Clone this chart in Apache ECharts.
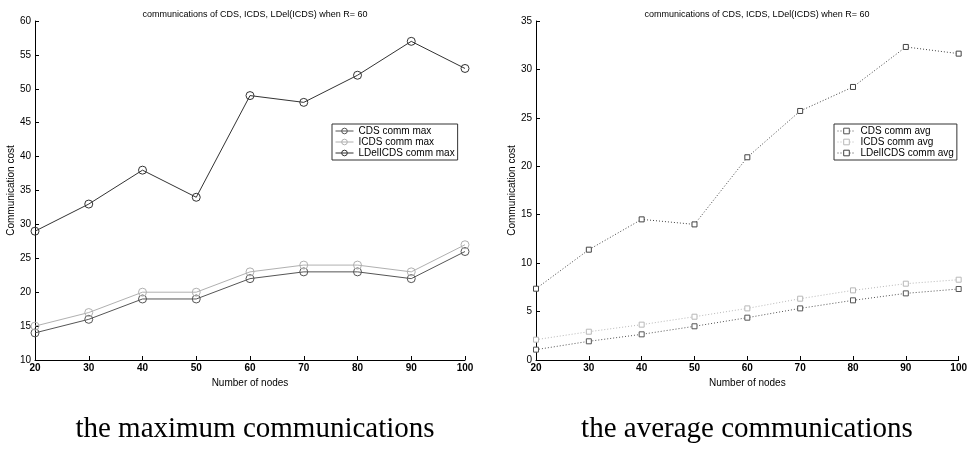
<!DOCTYPE html>
<html lang="en">
<head>
    <meta charset="utf-8"/>
    <script src="https://cdn.jsdelivr.net/npm/echarts@6/dist/echarts.min.js"></script>
</head>
<body style="margin: 0; background: #fff">
<div id="container" style="width: 970px;height:453px;"></div>
<script type="text/javascript">
    // nodes on the x axis
    var nodes = [20, 30, 40, 50, 60, 70, 80, 90, 100];

    // left chart: maximum communications
    var cdsMax = [14, 16, 19, 19, 22, 23, 23, 22, 26];
    var icdsMax = [15, 17, 20, 20, 23, 24, 24, 23, 27];
    var ldelMax = [29, 33, 38, 34, 49, 48, 52, 57, 53];

    // right chart: average communications
    var cdsAvg = [1.07, 1.93, 2.65, 3.48, 4.37, 5.33, 6.16, 6.88, 7.33];
    var icdsAvg = [2.1, 2.92, 3.65, 4.47, 5.33, 6.33, 7.19, 7.88, 8.29];
    var ldelAvg = [7.36, 11.39, 14.52, 14.0, 20.93, 25.71, 28.19, 32.32, 31.63];

    var titleText = 'communications of CDS, ICDS, LDel(ICDS) when R= 60';
    var captions = ['the maximum communications', 'the average communications'];

    function pairs(vals) {
        return vals.map(function (v, i) { return [nodes[i], v]; });
    }

    var font = 'Liberation Sans';
    var axisText = { color: '#000', fontSize: 10, fontFamily: font };

    function xAxis(gi) {
        return {
            gridIndex: gi, type: 'value', min: 20, max: 100, interval: 10,
            name: 'Number of nodes', nameLocation: 'middle', nameGap: 16,
            nameTextStyle: axisText,
            axisLine: { lineStyle: { color: '#000', width: 1 } },
            axisTick: { inside: true, length: 4, lineStyle: { color: '#000' } },
            axisLabel: { color: '#000', fontSize: 10, fontFamily: font, fontWeight: 'bold', margin: 3 },
            splitLine: { show: false }
        };
    }

    function yAxis(gi, min, max) {
        return {
            gridIndex: gi, type: 'value', min: min, max: max, interval: 5,
            name: 'Communication cost', nameLocation: 'middle', nameGap: 15, nameRotate: 90,
            nameTextStyle: axisText,
            axisLine: { show: true, lineStyle: { color: '#000', width: 1 } },
            axisTick: { show: true, inside: true, length: 4, lineStyle: { color: '#000' } },
            axisLabel: { color: '#000', fontSize: 10, fontFamily: font, margin: 4 },
            splitLine: { show: false }
        };
    }

    function maxSeries(name, vals, color) {
        return {
            name: name, type: 'line', xAxisIndex: 0, yAxisIndex: 0,
            data: pairs(vals), symbol: 'circle', symbolSize: 8,
            lineStyle: { color: color, width: 1 },
            itemStyle: { color: 'rgba(255,255,255,0)', borderColor: color, borderWidth: 1 },
            emphasis: { disabled: true }
        };
    }

    function avgSeries(name, vals, color) {
        return {
            name: name, type: 'line', xAxisIndex: 1, yAxisIndex: 1,
            data: pairs(vals), symbol: 'rect', symbolSize: 5,
            lineStyle: { color: color, width: 1, type: [1, 2] },
            itemStyle: { color: '#fff', borderColor: color, borderWidth: 1 },
            emphasis: { disabled: true }
        };
    }

    var legendBase = {
        orient: 'vertical', itemGap: 1, itemWidth: 18, itemHeight: 7,
        padding: [2, 3, 2, 3], borderColor: '#333', borderWidth: 1,
        backgroundColor: '#fff',
        itemStyle: { borderWidth: 1 },
        lineStyle: { width: 1 },
        textStyle: { color: '#000', fontSize: 10, fontFamily: font }
    };

    var myChart = echarts.init(document.getElementById('container'));

    var option = {
        animation: false,
        backgroundColor: '#fff',
        title: [
            { text: titleText, left: 250, top: 5, textAlign: 'center',
              textStyle: { fontSize: 9, fontWeight: 'normal', color: '#000', fontFamily: font } },
            { text: titleText, left: 752, top: 5, textAlign: 'center',
              textStyle: { fontSize: 9, fontWeight: 'normal', color: '#000', fontFamily: font } },
            { text: captions[0], left: 250, top: 410, textAlign: 'center',
              textStyle: { fontSize: 29, fontWeight: 'normal', color: '#000', fontFamily: 'Liberation Serif' } },
            { text: captions[1], left: 742, top: 410, textAlign: 'center',
              textStyle: { fontSize: 29, fontWeight: 'normal', color: '#000', fontFamily: 'Liberation Serif' } }
        ],
        legend: [
            Object.assign({}, legendBase, {
                left: 332, top: 124,
                data: ['CDS comm max', 'ICDS comm max', 'LDelICDS comm max']
            }),
            Object.assign({}, legendBase, {
                left: 834, top: 124,
                data: ['CDS comm avg', 'ICDS comm avg', 'LDelICDS comm avg']
            })
        ],
        grid: [
            { left: 35, top: 21, right: 505, bottom: 93 },
            { left: 536, top: 21, right: 3, bottom: 93 }
        ],
        xAxis: [xAxis(0), xAxis(1)],
        yAxis: [yAxis(0, 10, 60), yAxis(1, 0, 35)],
        series: [
            maxSeries('CDS comm max', cdsMax, '#555'),
            maxSeries('ICDS comm max', icdsMax, '#b0b0b0'),
            maxSeries('LDelICDS comm max', ldelMax, '#333'),
            avgSeries('CDS comm avg', cdsAvg, '#555'),
            avgSeries('ICDS comm avg', icdsAvg, '#b8b8b8'),
            avgSeries('LDelICDS comm avg', ldelAvg, '#444')
        ]
    };

    myChart.setOption(option);
</script>
</body>
</html>
